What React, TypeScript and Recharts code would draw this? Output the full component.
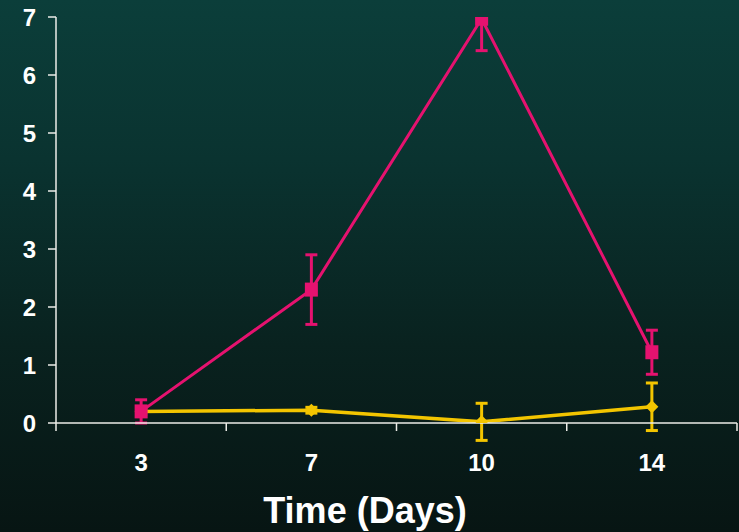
import React from 'react';
import { LineChart, Line, XAxis, YAxis, ErrorBar } from 'recharts';

// sampling days shown on the x axis
const days = ['3', '7', '10', '14'];

// magenta series: mean, lower and upper error
const pinkValues = [0.2, 2.3, 6.97, 1.22];
const pinkErrLow = [0.2, 0.6, 0.55, 0.38];
const pinkErrHigh = [0.2, 0.6, 0, 0.38];

// yellow series: mean and error
const yellowValues = [0.2, 0.22, 0.02, 0.28];
const yellowErrors = [0.05, 0.05, 0.32, 0.41];

const yTicks = [0, 1, 2, 3, 4, 5, 6, 7];

const PINK = '#e5126f';
const YELLOW = '#f3c500';
const AXIS = '#ecece8';

// each day sits in the middle of its own band, band edges carry the tick marks
const data = days.map((d, i) => ({
  pos: i + 0.5,
  day: d,
  pink: pinkValues[i],
  pinkErr: [pinkErrLow[i], pinkErrHigh[i]],
  yellow: yellowValues[i],
  yellowErr: yellowErrors[i],
}));

const xTicks: number[] = [];
for (let i = 0; i <= days.length * 2; i++) xTicks.push(i / 2);

const XTick = (props: any) => {
  const { x, y, payload } = props;
  const v = payload.value as number;
  if (Number.isInteger(v)) {
    return <line x1={x} y1={y} x2={x} y2={y + 8} stroke={AXIS} strokeWidth={1.5} />;
  }
  const label = days[Math.floor(v)];
  return (
    <text
      x={x}
      y={y + 48}
      textAnchor="middle"
      fill="#ffffff"
      fontSize={24}
      fontWeight="bold"
      fontFamily="'Liberation Sans Narrow', 'Arial Narrow', sans-serif"
    >
      {label}
    </text>
  );
};

const SquareDot = (props: any) => {
  const { cx, cy, index } = props;
  if (cx == null || cy == null) return <g key={`sq-${index}`} />;
  return <rect key={`sq-${index}`} x={cx - 6.5} y={cy - 7} width={13} height={14} fill={PINK} />;
};

const DiamondDot = (props: any) => {
  const { cx, cy, index } = props;
  if (cx == null || cy == null) return <g key={`dm-${index}`} />;
  const r = 6.5;
  return (
    <path
      key={`dm-${index}`}
      d={`M${cx},${cy - r}L${cx + r},${cy}L${cx},${cy + r}L${cx - r},${cy}Z`}
      fill={YELLOW}
    />
  );
};

export default function App() {
  return (
    <div
      style={{
        position: 'absolute',
        left: 0,
        top: 0,
        width: 739,
        height: 532,
        overflow: 'hidden',
        background:
          'linear-gradient(180deg, #0b3e3a 0%, #0a3330 30%, #09221f 65%, #071513 100%)',
      }}
    >
      <LineChart
        width={739}
        height={532}
        data={data}
        margin={{ top: 17, right: 2, left: 0, bottom: 0 }}
      >
        <XAxis
          dataKey="pos"
          type="number"
          domain={[0, days.length]}
          ticks={xTicks}
          interval={0}
          tick={<XTick />}
          tickLine={false}
          tickSize={0}
          tickMargin={0}
          axisLine={{ stroke: AXIS, strokeWidth: 1.5 }}
          height={109}
        />
        <YAxis
          type="number"
          domain={[0, 7]}
          allowDataOverflow
          ticks={yTicks}
          interval={0}
          width={56}
          tickSize={8}
          tickMargin={12}
          axisLine={{ stroke: AXIS, strokeWidth: 1.5 }}
          tickLine={{ stroke: AXIS, strokeWidth: 1.5 }}
          tick={{
            fill: '#ffffff',
            fontSize: 24,
            fontWeight: 'bold',
            fontFamily: "'Liberation Sans Narrow', 'Arial Narrow', sans-serif",
          }}
        />
        <Line
          dataKey="yellow"
          stroke={YELLOW}
          strokeWidth={3.5}
          dot={<DiamondDot />}
          activeDot={false}
          isAnimationActive={false}
        >
          <ErrorBar dataKey="yellowErr" width={6} stroke={YELLOW} strokeWidth={3} direction="y" />
        </Line>
        <Line
          dataKey="pink"
          stroke={PINK}
          strokeWidth={3}
          dot={<SquareDot />}
          activeDot={false}
          isAnimationActive={false}
        >
          <ErrorBar dataKey="pinkErr" width={6} stroke={PINK} strokeWidth={3} direction="y" />
        </Line>
      </LineChart>
      <div
        style={{
          position: 'absolute',
          left: 0,
          top: 493,
          width: 730,
          textAlign: 'center',
          color: '#ffffff',
          fontFamily: "'Liberation Sans', Arial, sans-serif",
          fontWeight: 'bold',
          fontSize: 36,
          lineHeight: '36px',
        }}
      >
        Time (Days)
      </div>
    </div>
  );
}
